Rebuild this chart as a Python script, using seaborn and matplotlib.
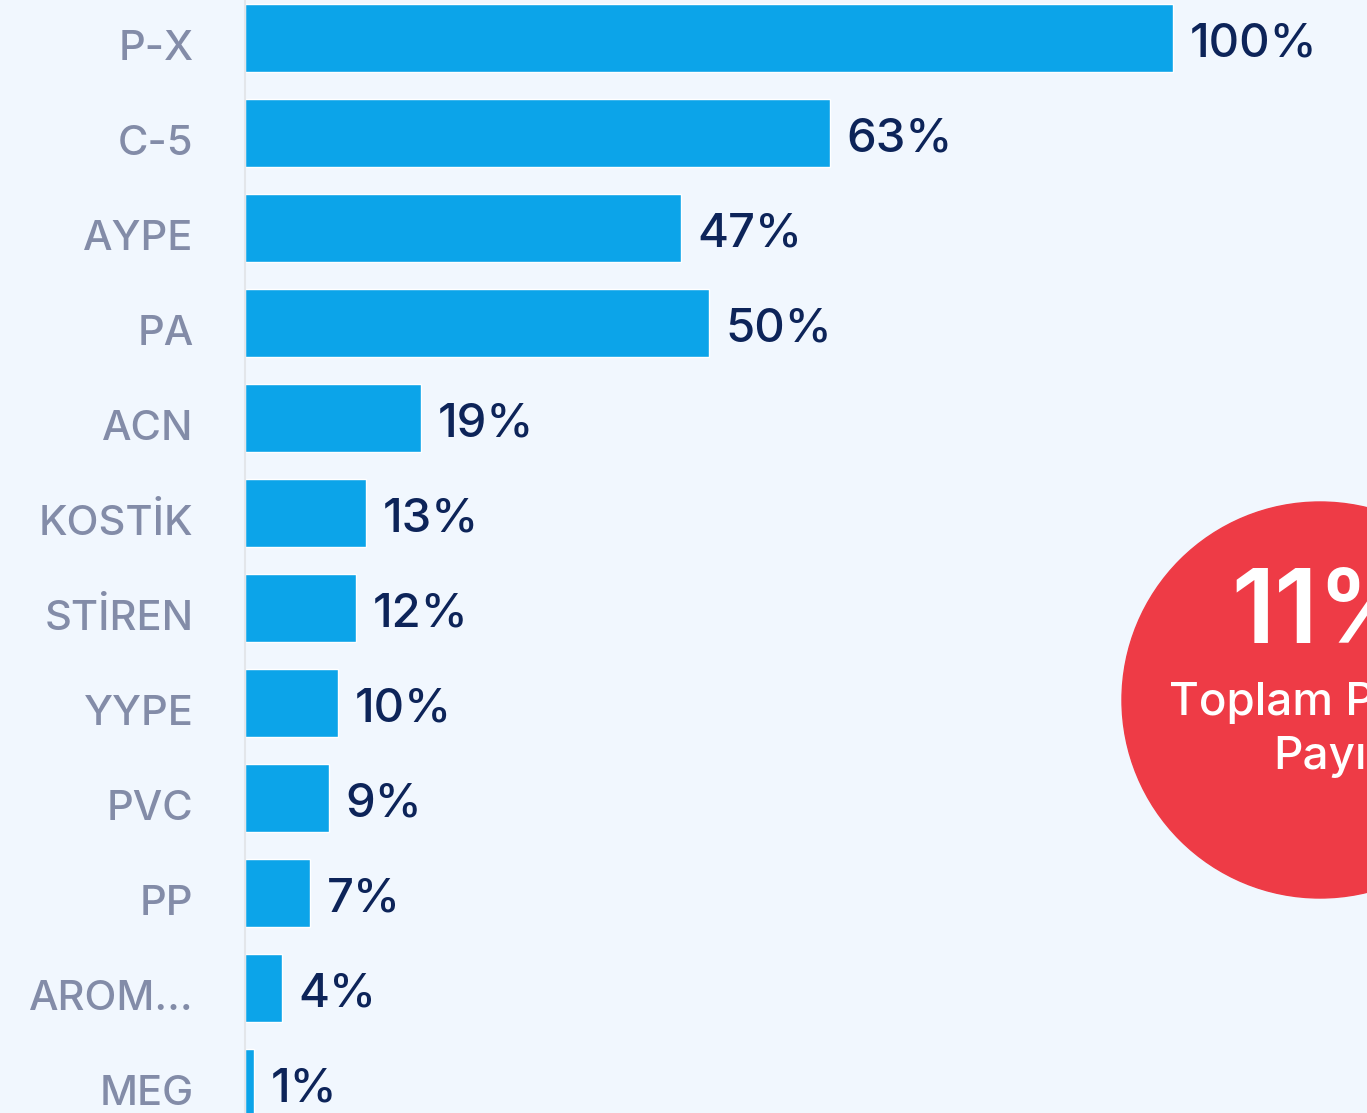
import matplotlib
matplotlib.use("Agg")
import matplotlib.pyplot as plt
import matplotlib.transforms as mtransforms
from matplotlib.patches import Ellipse
import seaborn as sns
import pandas as pd

# data
categories = ["P-X", "C-5", "AYPE", "PA", "ACN", "KOSTİK", "STİREN",
              "YYPE", "PVC", "PP", "AROM...", "MEG"]
shares = [100, 63, 47, 50, 19, 13, 12, 10, 9, 7, 4, 1]
value_labels = [f"{v}%" for v in shares]
badge_value = "11%"
badge_text = "Toplam Pazar\nPayı"

BG = "#F1F7FE"
BAR = "#0CA4E9"
RED = "#EE3B46"
NAVY = "#0D2459"
GREY = "#838CA8"

sns.set_style("white")
plt.rcParams["font.family"] = ["Inter", "DejaVu Sans"]

W, H = 1367, 1113
fig = plt.figure(figsize=(W / 100, H / 100), dpi=100)
fig.patch.set_facecolor(BG)

ax = fig.add_axes([245 / W, 0, 1 - 245 / W, 1])
ax.set_facecolor(BG)

df = pd.DataFrame({"cat": categories, "share": shares})
sns.barplot(data=df, x="share", y="cat", orient="h", color=BAR,
            saturation=1, width=0.716, ax=ax)

ax.set_xlim(0, 120.9)
ax.set_ylim(11.316, -0.4)
ax.set_xlabel("")
ax.set_ylabel("")
ax.set_xticks([])

for side in ["top", "right", "bottom"]:
    ax.spines[side].set_visible(False)
ax.spines["left"].set_color("#E3E6EA")
ax.spines["left"].set_linewidth(1.5)

ax.tick_params(axis="y", length=0, pad=37, labelsize=30, labelcolor=GREY)
shift = mtransforms.ScaledTranslation(0, -7 / 100, fig.dpi_scale_trans)
for lab in ax.get_yticklabels():
    lab.set_transform(lab.get_transform() + shift)
    lab.set_fontweight("medium")

texts = ax.bar_label(ax.containers[0], labels=value_labels, padding=12,
                     fontsize=34, color=NAVY, fontweight="medium")
for t in texts:
    # nudge down a little to sit like the reference
    t.xyann = (12, -5)

# red badge, clipped at the right edge
cx, cy, r = 1320 / W, (H - 700) / H, 198
fig.patches.append(Ellipse((cx, cy), 2 * r / W, 2 * r / H, color=RED,
                           transform=fig.transFigure, zorder=5))
fig.text(cx + 6 / W, (H - 643) / H, badge_value, ha="center", va="baseline",
         fontsize=74, color="white", fontweight="semibold", zorder=6)
lines = badge_text.split("\n")
fig.text(cx, (H - 715) / H, lines[0], ha="center", va="baseline",
         fontsize=33, color="white", fontweight="medium", zorder=6)
fig.text(cx, (H - 769) / H, lines[1], ha="center", va="baseline",
         fontsize=33, color="white", fontweight="medium", zorder=6)

fig.savefig("out.png", dpi=100, facecolor=BG)
